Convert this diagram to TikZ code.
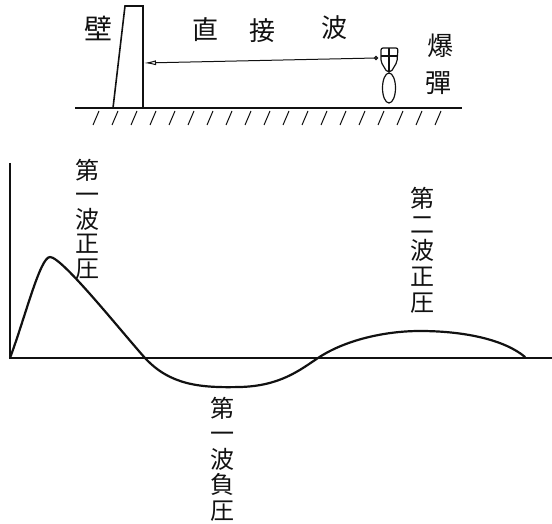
\documentclass[tikz,border=0pt]{standalone}
\usepackage{fontspec}
\usepackage{tikz}
\usetikzlibrary{positioning,calc,shapes.geometric,arrows.meta}
\newfontfamily\jpfont{Noto Sans CJK JP}
\definecolor{ink}{HTML}{111111}
\tikzset{
  % --- top sketch: wall, ground, bomb ---
  glyph/.style={font=\jpfont\fontsize{26}{26}\selectfont, text=ink, inner sep=0pt},
  ground/.style={draw=ink, line width=1.4pt},
  hatch/.style={draw=ink, line width=1pt},
  wallbody/.style={draw=ink, line width=1.6pt, line join=miter},
  bombpart/.style={draw=ink, line width=1.2pt},
  direct/.style={draw=ink, line width=1pt, -{Latex[length=12pt,width=5pt,open]}},
  % --- pressure curve ---
  axis/.style={draw=ink, line width=1.6pt},
  wave/.style={draw=ink, line width=2.2pt, line cap=round},
  vlabel/.style={font=\jpfont\fontsize{24}{24.5}\selectfont, text=ink,
                 align=center, inner sep=0pt},
}
\begin{document}
\begin{tikzpicture}[x=1pt,y=-1pt]
  \useasboundingbox (0,0) rectangle (552,524);
  % ground and hatching
  \coordinate (gl) at (75,108);
  \coordinate (gr) at (462,108);
  \draw[ground] (gl) -- (gr);
  \foreach \i in {0,...,18}
    \draw[hatch] (93+19*\i,125) -- (99+19*\i,111);
  % wall
  \draw[wallbody] (113,108) -- (125,6) -- (143,6) -- (143,108);
  \coordinate (wallface) at (144,63);
  \node[glyph, font=\jpfont\fontsize{28}{28}\selectfont] (wall) at (98,28) {壁};
  \node[glyph] (t1) at (205,30) {直};
  \node[glyph] (t2) at (262,31) {接};
  \node[glyph] (t3) at (334,28) {波};
  % bomb: tail fins on top, body below
  \node[bombpart, ellipse, minimum width=13pt, minimum height=30pt, inner sep=0pt]
        (bomb) at (389,88) {};
  \draw[bombpart, rounded corners=2pt] (381,48) -- (398,48) -- (397,62)
        -- (391,72) -- (387,72) -- (381,62) -- cycle;
  \draw[bombpart] (389,48) -- (389,72) (381,56) -- (398,56);
  \node[bombpart, circle, minimum size=3pt, inner sep=0pt] (fuse) at (376,58) {};
  \draw[direct] (fuse) -- (wallface);
  \node[glyph] (b1) at (440,46) {爆};
  \node[glyph] (b2) at (438,83) {彈};
  % pressure - time axes
  \coordinate (o) at (10,358);
  \draw[axis] (10,163) -- (o) -- (552,358);
  % pressure curve: first positive, negative, second positive phase
  \draw[wave] (o) .. controls (25,318) and (40,257) .. (50,257)
        .. controls (62,257) and (120,330) .. (145,358)
        .. controls (170,385) and (200,388) .. (240,387)
        .. controls (280,386) and (300,370) .. (318,358)
        .. controls (345,340) and (385,331) .. (420,331)
        .. controls (465,331) and (505,340) .. (525,357);
  \node[vlabel] (first) at (87,219) {第\\一\\波\\正\\圧};
  \node[vlabel, font=\jpfont\fontsize{24}{26}\selectfont] (second) at (422,250)
        {第\\二\\波\\正\\圧};
  \node[vlabel, font=\jpfont\fontsize{24}{25.5}\selectfont] (neg) at (222,459)
        {第\\一\\波\\負\\圧};
\end{tikzpicture}
\end{document}
